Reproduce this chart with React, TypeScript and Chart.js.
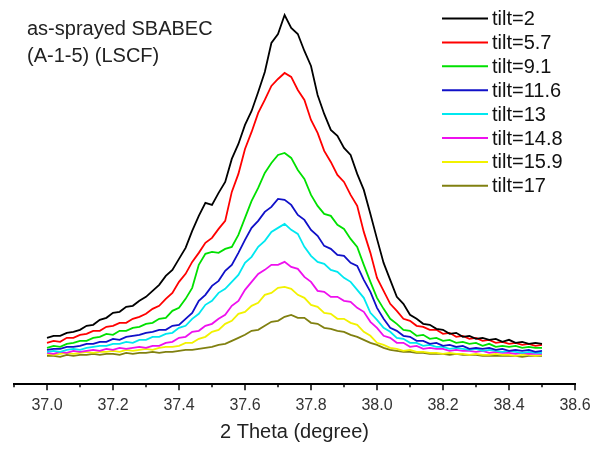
import React, { useEffect, useRef } from "react";
import { Chart, registerables } from "chart.js";

Chart.register(...registerables);

const theta = [
  37.0, 37.02, 37.04, 37.06, 37.08, 37.1, 37.12, 37.14, 37.16, 37.18,
  37.2, 37.22, 37.24, 37.26, 37.28, 37.3, 37.32, 37.34, 37.36, 37.38,
  37.4, 37.42, 37.44, 37.46, 37.48, 37.5, 37.52, 37.54, 37.56, 37.58,
  37.6, 37.62, 37.64, 37.66, 37.68, 37.7, 37.72, 37.74, 37.76, 37.78,
  37.8, 37.82, 37.84, 37.86, 37.88, 37.9, 37.92, 37.94, 37.96, 37.98,
  38.0, 38.02, 38.04, 38.06, 38.08, 38.1, 38.12, 38.14, 38.16, 38.18,
  38.2, 38.22, 38.24, 38.26, 38.28, 38.3, 38.32, 38.34, 38.36, 38.38,
  38.4, 38.42, 38.44, 38.46, 38.48, 38.5,
];

const tilt2 = [
  46, 48, 48, 51, 52, 54, 58, 59, 64, 66,
  71, 72, 77, 78, 83, 87, 93, 99, 108, 114,
  125, 136, 153, 168, 181, 179, 191, 202, 225, 240,
  259, 273, 292, 312, 341, 350, 369, 356, 350, 333,
  318, 289, 270, 254, 248, 236, 229, 210, 194, 170,
  145, 121, 104, 87, 80, 69, 65, 60, 59, 55,
  54, 50, 51, 47, 48, 45, 46, 44, 45, 42,
  44, 41, 42, 40, 41, 40,
];
const tilt5_7 = [
  41, 43, 42, 46, 46, 49, 50, 53, 53, 57,
  58, 61, 61, 65, 67, 70, 75, 78, 85, 91,
  102, 110, 122, 131, 141, 146, 155, 163, 192, 210,
  235, 252, 271, 284, 298, 305, 311, 307, 294, 284,
  264, 251, 233, 222, 209, 202, 189, 178, 152, 131,
  106, 93, 80, 73, 65, 63, 58, 57, 54, 54,
  50, 51, 47, 48, 45, 46, 43, 44, 41, 42,
  40, 41, 39, 40, 38, 39,
];
const tilt9_1 = [
  36, 38, 37, 40, 41, 43, 43, 46, 47, 50,
  49, 53, 53, 56, 57, 60, 61, 65, 66, 73,
  76, 85, 96, 119, 130, 132, 131, 135, 137, 149,
  166, 183, 196, 211, 221, 229, 231, 226, 214, 205,
  189, 178, 170, 168, 159, 155, 145, 137, 119, 102,
  86, 75, 65, 60, 54, 53, 48, 49, 45, 46,
  43, 44, 41, 42, 40, 41, 38, 40, 37, 38,
  37, 38, 36, 37, 36, 36,
];
const tilt11_6 = [
  34, 35, 35, 37, 37, 38, 40, 40, 42, 42,
  45, 44, 47, 48, 49, 51, 52, 54, 54, 58,
  59, 65, 71, 83, 89, 98, 103, 113, 119, 131,
  144, 156, 163, 172, 177, 185, 184, 179, 169, 164,
  154, 148, 138, 135, 129, 128, 121, 118, 104, 92,
  76, 65, 56, 53, 48, 47, 43, 43, 40, 41,
  38, 39, 37, 38, 35, 36, 35, 36, 34, 35,
  33, 34, 33, 34, 32, 33,
];
const tilt13 = [
  32, 33, 32, 34, 35, 34, 36, 37, 38, 38,
  40, 40, 42, 41, 44, 44, 47, 47, 50, 51,
  56, 58, 65, 70, 79, 83, 91, 95, 102, 109,
  121, 127, 137, 143, 152, 156, 160, 154, 150, 137,
  128, 122, 120, 114, 112, 106, 102, 94, 86, 71,
  64, 56, 52, 46, 45, 41, 41, 38, 39, 37,
  37, 35, 36, 35, 34, 35, 33, 34, 33, 32,
  33, 32, 31, 32, 31, 31,
];
const tilt14_8 = [
  31, 30, 32, 31, 33, 32, 33, 34, 33, 35,
  34, 36, 35, 36, 37, 36, 38, 38, 41, 42,
  46, 47, 52, 53, 58, 60, 65, 69, 78, 83,
  94, 102, 110, 114, 119, 119, 122, 117, 115, 107,
  102, 93, 92, 87, 87, 83, 82, 76, 72, 62,
  56, 48, 46, 41, 41, 37, 38, 35, 36, 35,
  35, 33, 34, 33, 33, 32, 33, 31, 32, 31,
  31, 30, 31, 30, 30, 30,
];
const tilt15_9 = [
  30, 29, 30, 31, 30, 31, 32, 31, 32, 32,
  33, 32, 34, 33, 34, 35, 34, 36, 37, 37,
  38, 41, 41, 45, 47, 52, 54, 60, 63, 70,
  72, 78, 81, 89, 91, 96, 97, 95, 89, 86,
  79, 77, 71, 70, 65, 65, 61, 59, 52, 48,
  41, 39, 36, 35, 33, 34, 32, 32, 31, 31,
  30, 31, 30, 30, 29, 30, 29, 29, 30, 29,
  29, 28, 29, 29, 28, 29,
];
const tilt17 = [
  28, 28, 27, 29, 28, 29, 29, 30, 29, 30,
  30, 29, 31, 30, 31, 31, 32, 31, 32, 32,
  33, 34, 34, 35, 36, 37, 39, 40, 43, 46,
  49, 53, 54, 58, 62, 63, 67, 69, 66, 66,
  61, 60, 56, 55, 53, 52, 49, 47, 44, 41,
  39, 36, 34, 33, 32, 32, 31, 31, 30, 30,
  30, 29, 30, 29, 29, 29, 28, 28, 28, 28,
  28, 28, 27, 28, 28, 28,
];

const seriesLabels = ["tilt=2", "tilt=5.7", "tilt=9.1", "tilt=11.6", "tilt=13", "tilt=14.8", "tilt=15.9", "tilt=17"];
const seriesValues = [tilt2, tilt5_7, tilt9_1, tilt11_6, tilt13, tilt14_8, tilt15_9, tilt17];
const seriesColors = ["#000000", "#ff0000", "#00e000", "#1010c8", "#00e8f0", "#ee10ee", "#f2f200", "#808010"];
const annotationLines = ["as-sprayed SBABEC", "(A-1-5) (LSCF)"];
const xTitle = "2 Theta (degree)";

const FONT = '"Liberation Sans", Arial, sans-serif';

const isMajor = (v: number) => Math.round(v * 10) % 2 === 0;

const overlayPlugin = {
  id: "overlay",
  afterDraw(chart: any) {
    const ctx = chart.ctx;
    const xs = chart.scales.x;
    const bottom = chart.chartArea.bottom;
    ctx.save();
    // tick marks (major long, minor short)
    ctx.strokeStyle = "#000";
    ctx.lineWidth = 1.5;
    xs.ticks.forEach((t: any) => {
      const px = xs.getPixelForValue(t.value);
      ctx.beginPath();
      ctx.moveTo(px, bottom);
      ctx.lineTo(px, bottom + (isMajor(t.value) ? 6.5 : 3.5));
      ctx.stroke();
    });
    // annotation
    ctx.fillStyle = "#222";
    ctx.font = "20px " + FONT;
    ctx.textAlign = "left";
    ctx.textBaseline = "alphabetic";
    annotationLines.forEach((s, i) => ctx.fillText(s, 27, 35 + i * 27));
    // legend
    ctx.textBaseline = "middle";
    chart.data.datasets.forEach((ds: any, i: number) => {
      const y = 18.5 + i * 23.9;
      ctx.strokeStyle = ds.borderColor;
      ctx.lineWidth = 2;
      ctx.beginPath();
      ctx.moveTo(442, y);
      ctx.lineTo(488, y);
      ctx.stroke();
      ctx.fillStyle = "#111";
      ctx.fillText(ds.label, 492, y + 1);
    });
    ctx.restore();
  },
};

export default function App() {
  const ref = useRef<HTMLCanvasElement>(null);
  useEffect(() => {
    document.body.style.margin = "0";
    const chart = new Chart(ref.current!, {
      type: "line",
      data: {
        datasets: seriesLabels.map((label, i) => ({
          label,
          data: theta.map((x, k) => ({ x, y: seriesValues[i][k] })),
          borderColor: seriesColors[i],
          backgroundColor: seriesColors[i],
          borderWidth: 1.8,
          pointRadius: 0,
          tension: 0,
          fill: false,
        })),
      },
      options: {
        animation: false,
        responsive: false,
        layout: { padding: { top: 8, left: 14, right: 18, bottom: 6 } },
        plugins: { legend: { display: false }, tooltip: { enabled: false } },
        scales: {
          x: {
            type: "linear",
            min: 36.9,
            max: 38.6,
            border: { display: true, color: "#000", width: 2 },
            grid: {
              drawOnChartArea: false,
              drawTicks: true,
              tickLength: 12,
              tickColor: "rgba(0,0,0,0)",
            },
            ticks: {
              stepSize: 0.1,
              autoSkip: false,
              maxRotation: 0,
              padding: 0,
              color: "#333",
              font: { family: FONT, size: 16 },
              callback: (v: any) => (isMajor(Number(v)) ? Number(v).toFixed(1) : ""),
            },
            title: {
              display: true,
              text: xTitle,
              color: "#222",
              font: { family: FONT, size: 20 },
              padding: { top: 5, bottom: 0 },
            },
          },
          y: { display: false, min: 0, max: 376 },
        },
      },
      plugins: [overlayPlugin],
    });
    return () => chart.destroy();
  }, []);
  return (
    <div style={{ width: 593, height: 450 }}>
      <canvas ref={ref} width={593} height={450} />
    </div>
  );
}
